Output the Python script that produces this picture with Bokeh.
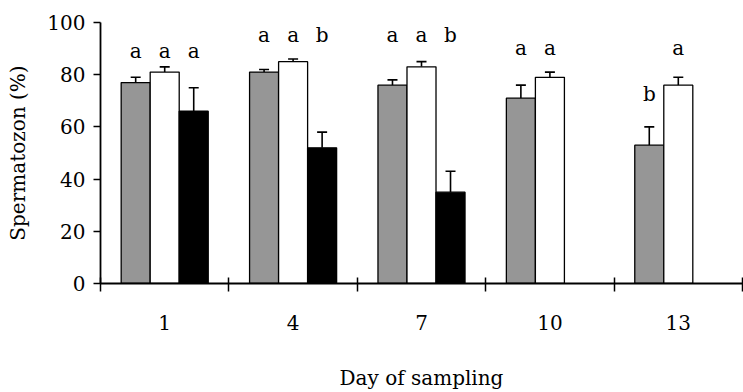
from bokeh.plotting import figure
from bokeh.models import ColumnDataSource, FixedTicker, Whisker, TeeHead, Range1d
from bokeh.core.properties import value
from bokeh.embed import file_html
from bokeh.resources import INLINE

# ---- data ----
days = ["1", "4", "7", "10", "13"]
series_names = ["grey", "white", "black"]
grey_vals = [77, 81, 76, 71, 53]
grey_err = [2, 1, 2, 5, 7]
white_vals = [81, 85, 83, 79, 76]
white_err = [2, 1, 2, 2, 3]
black_vals = [66, 52, 35, None, None]
black_err = [9, 6, 8, None, None]
grey_letters = ["a", "a", "a", "a", "b"]
white_letters = ["a", "a", "a", "a", "a"]
black_letters = ["a", "b", "b", None, None]
letter_y = [86.5, 92.5, 92.5, 87.5, 87.5]
grey_letter_y = [86.5, 92.5, 92.5, 87.5, 70]
y_ticks = [0, 20, 40, 60, 80, 100]

FONT = "DejaVu Serif"
FS = "20px"
colors = {"grey": "#969696", "white": "#ffffff", "black": "#000000"}
bar_w = 0.226
offsets = {"grey": -bar_w, "white": 0.0, "black": bar_w}

p = figure(width=743, height=392, output_backend="svg", toolbar_location=None,
           x_range=Range1d(0, len(days)), y_range=Range1d(0, 100),
           min_border_left=100, min_border_right=1, min_border_top=22,
           min_border_bottom=109)
p.grid.visible = False
p.outline_line_color = None
p.background_fill_color = "white"
p.border_fill_color = "white"

data = {
    "grey": (grey_vals, grey_err, grey_letters, grey_letter_y),
    "white": (white_vals, white_err, white_letters, letter_y),
    "black": (black_vals, black_err, black_letters, letter_y),
}

for name in series_names:
    vals, errs, letters, ly = data[name]
    xs, ys, ups, lx, lt, lyy = [], [], [], [], [], []
    for i, (v, e, l, yy) in enumerate(zip(vals, errs, letters, ly)):
        if v is None:
            continue
        x = i + 0.5 + offsets[name]
        xs.append(x)
        ys.append(v)
        ups.append(v + e)
        if l is not None:
            lx.append(x)
            lt.append(l)
            lyy.append(yy)
    src = ColumnDataSource(dict(x=xs, top=ys, upper=ups))
    p.vbar(x="x", top="top", bottom=0, width=bar_w, source=src,
           fill_color=colors[name], line_color="black", line_width=1.3)
    w = Whisker(base="x", lower="top", upper="upper", source=src,
                lower_head=None,
                upper_head=TeeHead(size=10, line_width=1.6, line_color="black"),
                line_width=1.6, line_color="black")
    p.add_layout(w)
    lsrc = ColumnDataSource(dict(x=lx, y=lyy, t=lt))
    p.text(x="x", y="y", text="t", source=lsrc, text_align="center",
           text_baseline="alphabetic", y_offset=-7,
           text_font=value("'DejaVu Serif', serif"),
           text_font_style="normal", text_font_size=FS, text_color="black")

# axes
xa = p.xaxis[0]
xa.ticker = FixedTicker(ticks=[i + 0.5 for i in range(len(days))],
                        minor_ticks=list(range(len(days) + 1)))
xa.major_label_overrides = {i + 0.5: d for i, d in enumerate(days)}
xa.major_tick_in = 0
xa.major_tick_out = 0
xa.minor_tick_in = 6
xa.minor_tick_out = 8
xa.minor_tick_line_width = 1.5
xa.minor_tick_line_color = "black"
xa.axis_line_width = 1.8
xa.axis_line_color = "black"
xa.major_label_standoff = 23
xa.axis_label = "Day of sampling"
xa.axis_label_standoff = 33
xa.axis_label_text_font = FONT
xa.axis_label_text_font_size = FS
xa.axis_label_text_font_style = "normal"
xa.axis_label_text_color = "black"
xa.major_label_text_font = FONT
xa.major_label_text_font_size = FS
xa.major_label_text_color = "black"

ya = p.yaxis[0]
ya.ticker = FixedTicker(ticks=y_ticks)
ya.major_tick_in = 0
ya.major_tick_out = 7
ya.major_tick_line_width = 1.5
ya.major_tick_line_color = "black"
ya.minor_tick_line_color = None
ya.axis_line_width = 1.8
ya.axis_line_color = "black"
ya.major_label_standoff = 8
ya.axis_label = "Spermatozon (%)"
ya.axis_label_standoff = 14
ya.axis_label_text_font = FONT
ya.axis_label_text_font_size = FS
ya.axis_label_text_font_style = "normal"
ya.axis_label_text_color = "black"
ya.major_label_text_font = FONT
ya.major_label_text_font_size = FS
ya.major_label_text_color = "black"

open("out.html", "w").write(file_html(p, INLINE))
